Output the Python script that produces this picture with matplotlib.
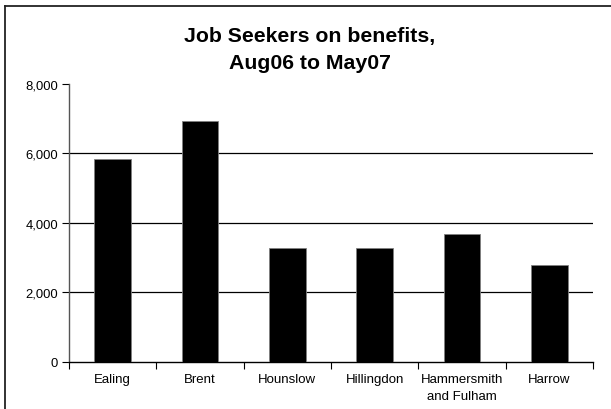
import matplotlib
matplotlib.use("Agg")
import matplotlib.pyplot as plt
from matplotlib.lines import Line2D
from matplotlib.ticker import FuncFormatter

categories = ["Ealing", "Brent", "Hounslow", "Hillingdon", "Hammersmith\nand Fulham", "Harrow"]
values = [5850, 6940, 3280, 3280, 3690, 2790]
yticks = [0, 2000, 4000, 6000, 8000]
title_lines = ["Job Seekers on benefits,", "Aug06 to May07"]

plt.rcParams['font.family'] = ['Liberation Sans', 'DejaVu Sans']

W, H = 611, 410
fig = plt.figure(figsize=(W / 100, H / 100), dpi=100)
fig.patch.set_facecolor('white')

left, right, top, bottom = 69, 593, 85, 362.5
ax = fig.add_axes([left / W, 1 - bottom / H, (right - left) / W, (bottom - top) / H])

x = list(range(len(categories)))
ax.bar(x, values, width=0.42, color='black', edgecolor='#808080', linewidth=0.6, zorder=3)

ax.set_xlim(-0.5, len(categories) - 0.5)
ax.set_ylim(0, 8000)
ax.set_yticks(yticks)
ax.yaxis.set_major_formatter(FuncFormatter(lambda v, p: f"{int(v):,}"))
for yv in yticks[1:-1]:
    ax.axhline(yv, color='black', linewidth=0.9, zorder=1)

ax.set_xticks([i - 0.5 for i in range(len(categories) + 1)])
ax.set_xticklabels([])
ax.set_xticks(x, minor=True)
ax.set_xticklabels(categories, minor=True, fontsize=9.5)
for lab in ax.get_xticklabels(minor=True):
    lab.set_linespacing(1.55)
ax.tick_params(axis='x', which='minor', length=0, pad=8)
ax.tick_params(axis='x', which='major', length=5, width=0.8, direction='out', color='black')
ax.tick_params(axis='y', length=5, width=0.8, direction='out', labelsize=9.4, pad=3, color='black')

for s in ['top', 'right']:
    ax.spines[s].set_visible(False)
ax.spines['left'].set_color('#555555')
ax.spines['left'].set_linewidth(1.0)
ax.spines['bottom'].set_color('black')
ax.spines['bottom'].set_linewidth(1.0)

fig.text(310 / W, 1 - 41.7 / H, title_lines[0], ha='center', va='baseline', fontsize=15.3,
         fontweight='bold')
fig.text(310 / W, 1 - 69.3 / H, title_lines[1], ha='center', va='baseline', fontsize=15.3,
         fontweight='bold')

fx = 5 / W
fy = 1 - 6.5 / H
fig.add_artist(Line2D([fx, 1.05], [fy, fy], transform=fig.transFigure, color='#222222', linewidth=1.3))
fig.add_artist(Line2D([fx, fx], [fy, -0.05], transform=fig.transFigure, color='#222222', linewidth=1.3))

fig.savefig("out.png", dpi=100)
